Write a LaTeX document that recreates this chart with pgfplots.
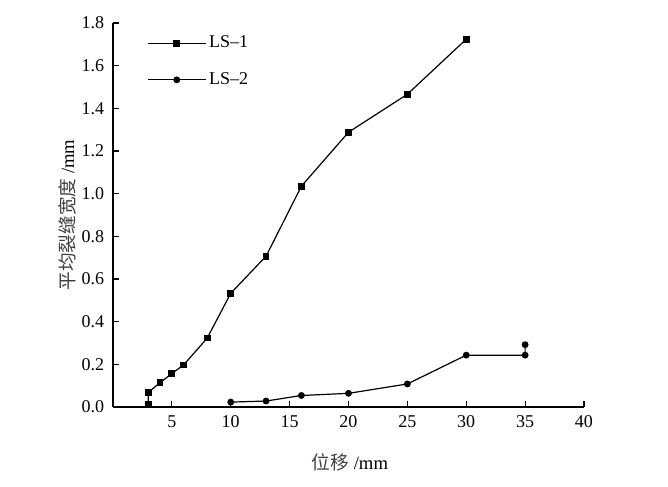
\documentclass[border=0pt]{standalone}
\usepackage{fontspec}
\setmainfont{Liberation Serif}
\newfontfamily\cjk{Noto Sans CJK SC}
\usepackage{pgfplots}
\pgfplotsset{compat=1.18}
\begin{document}
\fontsize{13.5}{16}\selectfont
\begin{tikzpicture}
\path[use as bounding box] (-84.75pt,-59.25pt) rectangle (416.25pt,305.25pt);
\begin{axis}[
  anchor=south west, at={(0pt,0pt)},
  scale only axis,
  width=353.25pt, height=288pt,
  xmin=0, xmax=40, ymin=0, ymax=1.8,
  axis lines=left,
  axis line style={-, line width=0.8pt},
  tick align=inside,
  major tick length=4.5pt,
  tick style={line width=0.8pt, black},
  xtick={5,10,15,20,25,30,35,40},
  ytick={0,0.2,0.4,0.6,0.8,1.0,1.2,1.4,1.6,1.8},
  yticklabel style={/pgf/number format/fixed, /pgf/number format/fixed zerofill, /pgf/number format/precision=1, xshift=-2pt},
  /pgf/number format/assume math mode=true,
  ticklabel style={font=\fontsize{13.5}{16}\selectfont},
  xticklabel style={yshift=-2pt},
  xlabel={{\cjk\color{black!75}位移} /mm},
  ylabel={{\cjk\color{black!75}平均裂缝宽度} /mm},
  xlabel style={at={(axis description cs:0.503,-0.143)}, anchor=center, font=\fontsize{14}{16}\selectfont},
  ylabel style={at={(axis description cs:-0.0975,0.5)}, anchor=center, rotate=0, font=\fontsize{14}{16}\selectfont},
  legend style={draw=none, fill=none, at={(axis description cs:0.072,0.974)}, anchor=north west,
    font=\fontsize{13.5}{16}\selectfont, row sep=12.5pt, inner sep=0pt,
    legend cell align=left},
  legend image code/.code={\draw[mark repeat=2,mark phase=2] plot coordinates {(0pt,0pt)(21.75pt,0pt)(43.5pt,0pt)};},
  clip=false,
]
\addplot[black, line width=0.9pt, mark=square*, mark size=2.1pt] coordinates {
(3,0.014) (3,0.069) (4,0.114) (5,0.157) (6,0.197) (8,0.323) (10,0.533) (13,0.707) (16,1.035) (20,1.288) (25,1.466) (30,1.724)
};
\addlegendentry{LS–1}
\addplot[black, line width=0.9pt, mark=*, mark size=2.1pt] coordinates {
(10,0.023) (13,0.028) (16,0.054) (20,0.064) (25,0.108) (30,0.243) (35,0.243) (35,0.292)
};
\addlegendentry{LS–2}
\end{axis}
\end{tikzpicture}
\end{document}
